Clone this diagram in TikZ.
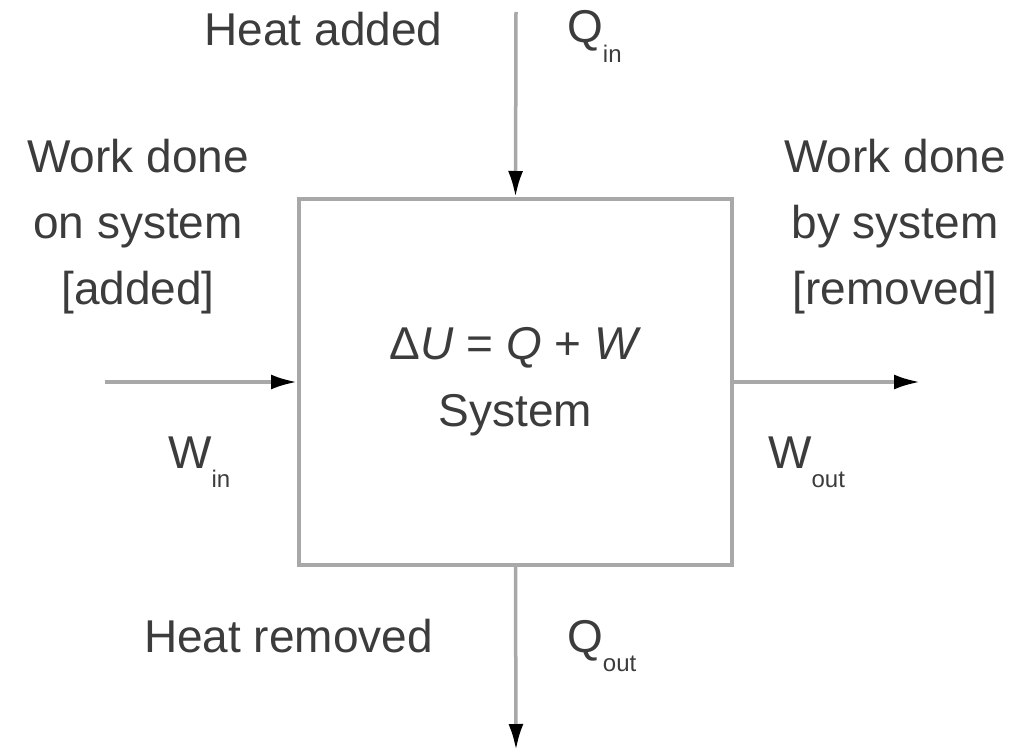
\documentclass[tikz,border=0pt]{standalone}
\usepackage{fontspec}
\setmainfont{Liberation Sans}
\usepackage{tikz}
\usetikzlibrary{arrows.meta, positioning}
\definecolor{linegray}{RGB}{168,168,168}
\definecolor{textgray}{RGB}{60,60,60}
\newcommand{\lowsub}[1]{\raisebox{-0.42em}{\fontsize{24}{24}\selectfont #1}}

\begin{document}
\begin{tikzpicture}[x=1pt, y=-1pt,
  sysbox/.style={rectangle, draw=linegray, line width=4pt, text=textgray,
                 minimum width=433pt, minimum height=366pt, align=center,
                 font=\fontsize{46}{67}\selectfont},
  flow/.style={draw=linegray, line width=3.5pt,
               -{Latex[length=26pt, width=15pt, color=black]}},
  lbl/.style={text=textgray, inner sep=0pt, align=center,
              font=\fontsize{46}{66}\selectfont}
]
\useasboundingbox (0,0) rectangle (1018,752);

\node[sysbox] (sys) at (515.5, 382) {Δ\textit{U} = \textit{Q} + \textit{W}\\System};

\coordinate (qin)  at (516, 12);
\coordinate (qout) at (516, 750);
\coordinate (win)  at (105, 382);
\coordinate (wout) at (920, 382);

\draw[flow] (qin) -- (sys.north);
\draw[flow] (sys.south) -- (qout);
\draw[flow] (win) -- (sys.west);
\draw[flow] (sys.east) -- (wout);

\node[lbl, anchor=base] (hadd) at (323.5, 46) {Heat added};
\node[lbl, anchor=base west] (qinl) at (567, 43) {Q\lowsub{in}};
\node[lbl] (wonl) at (138, 227) {Work done\\on system\\{[added]}};
\node[lbl] (wbyl) at (895, 227) {Work done\\by system\\{[removed]}};
\node[lbl, anchor=base west] (winl) at (168, 468) {W\lowsub{in}};
\node[lbl, anchor=base west] (woutl) at (768, 468) {W\lowsub{out}};
\node[lbl, anchor=base] (hrem) at (288.5, 652) {Heat removed};
\node[lbl, anchor=base west] (qoutl) at (567, 652) {Q\lowsub{out}};
\end{tikzpicture}
\end{document}
